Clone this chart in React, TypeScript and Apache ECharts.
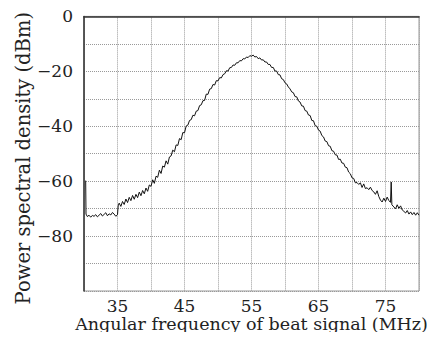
import React, { useEffect, useRef } from "react";
import * as echarts from "echarts";

const freqMHz = [
  30.25, 30.3, 30.5, 30.75, 31.0, 31.25, 31.5, 31.75, 32.0, 32.25, 32.5, 32.75, 33.0, 33.25, 33.5, 33.75, 34.0, 34.25, 34.5, 34.75, 35.0,
  35.1, 35.25, 35.5, 35.75, 36.0, 36.25, 36.5, 36.75, 37.0, 37.25, 37.5, 37.75, 38.0, 38.25, 38.5, 38.75, 39.0, 39.25, 39.5, 39.75, 40.0,
  40.25, 40.5, 40.75, 41.0, 41.25, 41.5, 41.75, 42.0, 42.25, 42.5, 42.75, 43.0, 43.25, 43.5, 43.75, 44.0, 44.25, 44.5, 44.75, 45.0,
  45.25, 45.5, 45.75, 46.0, 46.25, 46.5, 46.75, 47.0, 47.25, 47.5, 47.75, 48.0, 48.25, 48.5, 48.75, 49.0, 49.25, 49.5, 49.75, 50.0,
  50.25, 50.5, 50.75, 51.0, 51.25, 51.5, 51.75, 52.0, 52.25, 52.5, 52.75, 53.0, 53.25, 53.5, 53.75, 54.0, 54.25, 54.5, 54.75, 55.0,
  55.25, 55.5, 55.75, 56.0, 56.25, 56.5, 56.75, 57.0, 57.25, 57.5, 57.75, 58.0, 58.25, 58.5, 58.75, 59.0, 59.25, 59.5, 59.75, 60.0,
  60.25, 60.5, 60.75, 61.0, 61.25, 61.5, 61.75, 62.0, 62.25, 62.5, 62.75, 63.0, 63.25, 63.5, 63.75, 64.0, 64.25, 64.5, 64.75, 65.0,
  65.25, 65.5, 65.75, 66.0, 66.25, 66.5, 66.75, 67.0, 67.25, 67.5, 67.75, 68.0, 68.25, 68.5, 68.75, 69.0, 69.25, 69.5, 69.75, 70.0,
  70.25, 70.5, 70.75, 71.0, 71.25, 71.5, 71.75, 72.0, 72.25, 72.5, 72.75, 73.0, 73.25, 73.5, 73.75, 74.0, 74.25, 74.5, 74.75, 75.0,
  75.25, 75.5, 75.75, 75.85, 75.95, 76.25, 76.5, 76.75, 77.0, 77.25, 77.5, 77.75, 78.0, 78.25, 78.5, 78.75, 79.0, 79.25, 79.5, 79.75, 80.0,
];

const psdDBm = [
  -59.8, -72.0, -72.9, -72.4, -73.1, -72.5, -72.8, -72.2, -73.0, -72.4, -71.8, -72.7, -72.1, -71.5, -72.6, -71.9, -72.3, -71.4, -72.0, -72.8, -72.2,
  -69.0, -68.0, -69.2, -67.4, -68.5, -66.5, -67.8, -65.9, -67.1, -65.2, -66.6, -64.8, -66.0, -64.0, -65.3, -63.4, -64.6, -62.5, -63.7, -61.4, -61.9,
  -59.5, -60.8, -58.2, -58.6, -56.0, -57.2, -54.5, -54.9, -52.6, -53.8, -51.2, -50.8, -48.7, -49.3, -46.8, -47.0, -44.5, -44.9, -42.3, -42.4,
  -39.9, -39.6, -37.9, -37.6, -36.0, -36.2, -34.5, -34.3, -32.5, -32.2, -30.7, -30.6, -28.3, -28.4, -26.5, -26.3, -24.8, -25.0, -23.4, -23.5,
  -22.3, -22.4, -21.2, -20.9, -19.8, -19.9, -18.7, -18.6, -17.7, -17.8, -16.9, -16.9, -16.1, -16.2, -15.4, -15.5, -14.8, -15.0, -14.3, -14.5,
  -14.1, -14.8, -14.6, -15.4, -15.1, -15.9, -15.8, -16.6, -16.6, -17.5, -17.5, -18.6, -18.6, -19.9, -19.9, -21.2, -21.3, -22.7, -23.0, -24.2,
  -24.6, -25.7, -26.4, -27.5, -27.8, -29.2, -29.3, -30.8, -31.2, -32.6, -32.7, -34.3, -34.5, -35.9, -36.1, -37.9, -38.0, -39.8, -40.0, -41.4,
  -41.8, -43.4, -43.9, -45.4, -45.6, -47.1, -47.3, -48.9, -49.1, -50.4, -50.5, -52.1, -52.0, -53.4, -53.5, -54.9, -55.1, -56.7, -57.3, -58.8,
  -59.0, -60.6, -60.5, -61.2, -60.6, -62.3, -61.0, -62.7, -62.4, -63.1, -62.2, -63.4, -63.9, -64.8, -63.5, -65.6, -66.9, -67.6, -66.2, -67.4,
  -65.8, -67.1, -67.7, -60.3, -68.6, -69.4, -70.1, -68.6, -69.9, -69.0, -70.5, -71.0, -71.6, -70.7, -72.0, -71.2, -72.2, -71.4, -72.4, -71.5, -72.4,
];

const xTickLabels = [35, 45, 55, 65, 75];
const yTickLabels = [0, -20, -40, -60, -80];

const FONT = "DejaVu Serif";

export default function App() {
  const ref = useRef<HTMLDivElement>(null);
  useEffect(() => {
    if (!ref.current) return;
    const chart = echarts.init(ref.current, undefined, { renderer: "svg" });
    const data = freqMHz.map((f, i) => [f, psdDBm[i]]);
    chart.setOption({
      animation: false,
      backgroundColor: "#fff",
      grid: {
        left: 84,
        top: 14,
        right: 16,
        bottom: 49,
        show: true,
        borderColor: "#999",
        borderWidth: 1,
        backgroundColor: "transparent",
      },
      xAxis: {
        type: "value",
        min: 30,
        max: 80,
        interval: 5,
        name: "Angular frequency of beat signal (MHz)",
        nameLocation: "middle",
        nameGap: 25,
        nameMoveOverlap: false,
        nameTextStyle: { fontFamily: FONT, fontSize: 17.5, lineHeight: 16, color: "#222" },
        axisLine: { show: true, lineStyle: { color: "#333", width: 1.5 } },
        axisTick: { show: false },
        axisLabel: {
          fontFamily: FONT,
          fontSize: 17,
          lineHeight: 15,
          color: "#222",
          margin: 7,
          formatter: (v: number) => (xTickLabels.includes(v) ? String(v) : ""),
        },
        splitLine: { show: true, lineStyle: { color: "#999", type: "dotted", width: 1 } },
      },
      yAxis: {
        type: "value",
        min: -100,
        max: 0,
        interval: 10,
        name: "Power spectral density (dBm)",
        nameLocation: "middle",
        nameGap: 51,
        nameRotate: 90,
        nameMoveOverlap: false,
        nameTextStyle: {
          fontFamily: FONT,
          fontSize: 19.5,
          lineHeight: 20,
          color: "#222",
          padding: [0, 9, 0, 0],
        },
        axisLine: { show: true, lineStyle: { color: "#333", width: 1.5 } },
        axisTick: { show: false },
        axisLabel: {
          fontFamily: FONT,
          fontSize: 17,
          color: "#222",
          margin: 11,
          formatter: (v: number) =>
            yTickLabels.includes(v) ? (v < 0 ? "\u2212" + Math.abs(v) : String(v)) : "",
        },
        splitLine: { show: true, lineStyle: { color: "#999", type: "dotted", width: 1 } },
      },
      series: [
        {
          type: "line",
          data,
          showSymbol: false,
          symbol: "none",
          lineStyle: { color: "#111", width: 1 },
        },
      ],
    });
    return () => chart.dispose();
  }, []);
  return <div ref={ref} style={{ width: 435, height: 340, margin: -8 }} />;
}
